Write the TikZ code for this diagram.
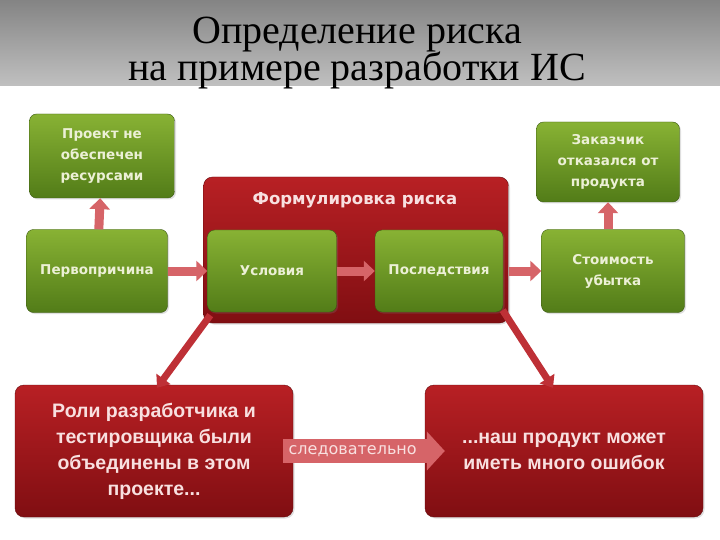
\documentclass[tikz,border=0pt]{standalone}
\usepackage{fontspec}
\setmainfont{Liberation Serif}
\newfontfamily\boxfont{DejaVu Sans}
\newfontfamily\wordfont{Liberation Sans}
\usetikzlibrary{arrows.meta,shadows,positioning}

\definecolor{greentop}{RGB}{136,178,52}
\definecolor{greenbot}{RGB}{82,124,24}
\definecolor{redtop}{RGB}{184,32,36}
\definecolor{redbot}{RGB}{128,14,18}
\definecolor{pinkarrow}{RGB}{214,100,104}
\definecolor{darkarrow}{RGB}{190,48,54}
\definecolor{greentext}{RGB}{236,240,214}
\definecolor{redtext}{RGB}{248,224,224}

\tikzset{
  greenbox/.style={rounded corners=7pt, inner sep=0pt, align=center,
    top color=greentop, bottom color=greenbot, draw=greenbot!70!black,
    drop shadow={opacity=0.25, shadow xshift=1.5pt, shadow yshift=-1.5pt},
    text=greentext, font=\boxfont\bfseries\fontsize{13.5}{21}\selectfont},
  redbox/.style={rounded corners=9pt, inner sep=0pt, align=center,
    top color=redtop, bottom color=redbot, draw=redbot!80!black,
    drop shadow={opacity=0.25, shadow xshift=1.5pt, shadow yshift=-1.5pt},
    text=redtext, font=\wordfont\bfseries\fontsize{19.5}{26}\selectfont},
  blockarrow/.style={line width=9pt, pinkarrow,
    -{Triangle[length=11pt,width=20pt]}},
  diagarrow/.style={line width=7pt, darkarrow,
    -{Triangle[length=11pt,width=17pt]}},
}

\begin{document}
\begin{tikzpicture}[x=1pt,y=-1pt]
  \useasboundingbox (0,0) rectangle (720,540);
  \shade[top color={rgb,255:red,132;green,132;blue,132},
         bottom color={rgb,255:red,192;green,192;blue,192}]
    (0,0) rectangle (720,86);
  \node[anchor=base, font=\fontsize{40}{44}\selectfont] (title1) at (357,44)
    {Определение риска};
  \node[anchor=base, font=\fontsize{40}{44}\selectfont] (title2) at (357,81)
    {на примере разработки ИС};

  % formulation of the risk
  \node[redbox, minimum width=305pt, minimum height=146pt] (frame) at (356,250) {};
  \node[text=redtext, font=\boxfont\bfseries\fontsize{16.5}{18}\selectfont]
    (frametitle) at (355,200) {Формулировка риска};
  \node[greenbox, minimum width=129pt, minimum height=82pt] (cond) at (272,271) {Условия};
  \node[greenbox, minimum width=128pt, minimum height=82pt] (conseq) at (439,271) {Последствия};

  % left column
  \node[greenbox, minimum width=145pt, minimum height=84pt] (resources) at (102,156)
    {Проект не\\обеспечен\\ресурсами};
  \node[greenbox, minimum width=141pt, minimum height=83pt] (cause) at (97,271) {Первопричина};

  % right column
  \node[greenbox, minimum width=143pt, minimum height=80pt] (refusal) at (608,162)
    {Заказчик\\отказался от\\продукта};
  \node[greenbox, minimum width=143pt, minimum height=83pt] (cost) at (613,271)
    {Стоимость\\убытка};

  % example
  \node[redbox, minimum width=278pt, minimum height=132pt] (roles) at (154,451)
    {Роли разработчика и\\тестировщика были\\объединены в этом\\проекте...};
  \node[redbox, minimum width=278pt, minimum height=132pt] (result) at (564,451)
    {...наш продукт может\\иметь много ошибок};

  \begin{scope}
    \draw[blockarrow] (cause) -- (cond);
    \draw[blockarrow] (cond) -- (conseq);
    \draw[blockarrow] (frame.east |- conseq) -- (cost);
    \draw[blockarrow] (cause) -- (resources);
    \draw[blockarrow] (cost.north -| refusal) -- (refusal);
    \draw[diagarrow] ([shift={(7,-8)}]frame.south west) -- ([shift={(3,3)}]roles.north);
    \draw[diagarrow] ([shift={(-6,-13)}]frame.south east) -- ([shift={(-11,3)}]result.north);
    \draw[line width=24pt, pinkarrow, -{Triangle[length=18pt,width=38pt]}]
      ([xshift=-10pt]roles.east) -- ([xshift=20pt]result.west)
      node[pos=0.43, text=redtext, font=\boxfont\fontsize{16}{18}\selectfont] (hence)
      {следовательно};
  \end{scope}
\end{tikzpicture}
\end{document}
